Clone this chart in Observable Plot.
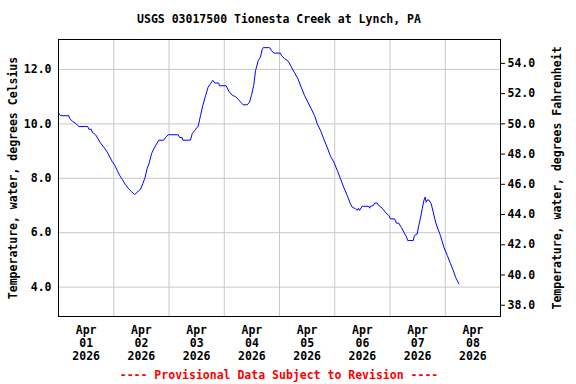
<!DOCTYPE html>
<html>
<head>
<meta charset="utf-8">
<script src="https://cdn.jsdelivr.net/npm/d3@7"></script>
<script src="https://cdn.jsdelivr.net/npm/@observablehq/plot@0.6"></script>
<style>
  html, body { margin: 0; padding: 0; background: #fff; }
  body { position: relative; width: 576px; height: 384px; overflow: hidden;
         font-family: "DejaVu Sans Mono", "Liberation Mono", monospace; font-weight: bold; }
  #title { position: absolute; left: 58px; width: 442px; top: 12px; line-height: 14px;
           font-size: 11.5px; text-align: center; color: #000; white-space: nowrap; }
  #chart { position: absolute; left: 0; top: 30px; }
  #caption { position: absolute; left: 58px; width: 442px; top: 368px; line-height: 14px;
             font-size: 11.5px; text-align: center; color: #ff0000; white-space: nowrap; }
</style>
</head>
<body>
<div id="title"></div>
<div id="chart"></div>
<div id="caption"></div>
<script>
const titleText = "USGS 03017500 Tionesta Creek at Lynch, PA";
const captionText = "---- Provisional Data Subject to Revision ----";
const leftLabel = "Temperature, water, degrees Celsius";
const rightLabel = "Temperature, water, degrees Fahrenheit";

// hours since 2026-04-01 00:00
const hours = [0, 0.9, 4.5, 4.8, 6.0, 7.7, 8.8, 12.7, 13.2, 14.3, 14.6, 16.1, 17.2, 18.2, 19.7, 21.2, 22.3, 23.3, 24.5, 25.5,
  26.6, 27.7, 29.1, 30.5, 31.7, 33.1, 34.2, 35.6, 36.6, 37.5, 38.5, 39.5, 40.4, 41.4, 42.4, 43.6, 45.7, 46.5, 47.7, 52.0,
  52.6, 53.7, 54.0, 57.3, 58.1, 59.2, 60.7, 61.7, 62.7, 63.9, 65.0, 66.0, 67.0, 67.9, 69.6, 69.9, 72.8, 74.0, 75.5, 76.9,
  78.1, 79.1, 80.2, 82.0, 83.0, 83.8, 84.8, 85.6, 86.8, 87.7, 88.5, 88.9, 91.7, 92.5, 93.5, 96.4, 96.9, 98.2, 99.8, 101.1,
  102.5, 104.0, 105.4, 106.9, 108.3, 109.8, 111.2, 112.4, 113.8, 115.2, 116.7, 118.2, 119.6, 121.1, 122.5, 123.9, 125.4, 126.8, 127.6, 129.0,
  129.8, 130.3, 130.8, 131.9, 134.8, 135.2, 135.5, 136.8, 137.3, 138.4, 139.1, 140.6, 142.0, 143.5, 144.2, 146.0, 146.8, 147.8, 148.9, 150.0,
  151.2, 151.7, 154.1, 154.6, 155.8, 156.5, 157.3, 158.0, 158.7, 159.3, 159.7, 160.1, 160.9, 161.9, 162.8, 163.8, 164.8, 165.9, 167.4, 168.9,
  170.3, 171.5, 172.5, 173.9];
const tempC = [10.4, 10.3, 10.3, 10.2, 10.1, 10.0, 9.9, 9.9, 9.8, 9.8, 9.7, 9.6, 9.45, 9.3, 9.14, 8.96, 8.78, 8.62, 8.47, 8.29,
  8.1, 7.96, 7.76, 7.61, 7.51, 7.4, 7.49, 7.59, 7.8, 8.0, 8.35, 8.59, 8.9, 9.08, 9.23, 9.4, 9.4, 9.5, 9.6, 9.6,
  9.5, 9.5, 9.4, 9.4, 9.64, 9.76, 9.92, 10.31, 10.68, 11.04, 11.35, 11.47, 11.6, 11.5, 11.5, 11.4, 11.4, 11.2, 11.05, 11.0,
  10.9, 10.8, 10.7, 10.7, 10.8, 11.04, 11.41, 11.96, 12.33, 12.45, 12.74, 12.8, 12.8, 12.7, 12.6, 12.6, 12.5, 12.4, 12.3, 12.1,
  11.88, 11.66, 11.35, 11.04, 10.8, 10.55, 10.31, 10.0, 9.76, 9.45, 9.14, 8.8, 8.59, 8.29, 7.98, 7.67, 7.37, 7.06, 6.94, 6.88,
  6.82, 6.9, 6.82, 6.97, 6.97, 6.9, 6.97, 7.0, 7.09, 7.09, 7.0, 6.9, 6.75, 6.63, 6.51, 6.51, 6.35, 6.35, 6.2, 6.02,
  5.84, 5.71, 5.71, 5.9, 5.95, 6.26, 6.57, 6.88, 7.18, 7.31, 7.12, 7.2, 7.2, 7.06, 6.75, 6.39, 6.14, 5.9, 5.47, 5.16,
  4.86, 4.61, 4.36, 4.12];

const celsiusTicks = [4, 6, 8, 10, 12];
const fahrenheitTicks = [38, 40, 42, 44, 46, 48, 50, 52, 54];
const tickDays = ["2026-04-01", "2026-04-02", "2026-04-03", "2026-04-04", "2026-04-05", "2026-04-06", "2026-04-07", "2026-04-08"];
const gridDays = ["2026-04-02", "2026-04-03", "2026-04-04", "2026-04-05", "2026-04-06", "2026-04-07", "2026-04-08"];
const xStart = "2026-04-01T00:00Z", xEnd = "2026-04-09T00:00Z";

document.getElementById("title").textContent = titleText;
document.getElementById("caption").textContent = captionText;

const t0 = new Date(xStart).getTime();
const data = hours.map((h, i) => ({time: new Date(t0 + h * 3600e3), value: tempC[i]}));
const noon = tickDays.map(d => new Date(d + "T12:00Z"));
const midnights = gridDays.map(d => new Date(d + "T00:00Z"));
const toC = f => (f - 32) * 5 / 9;
const fmtDay = d3.utcFormat("%b\n%d\n%Y");

const font = "DejaVu Sans Mono, Liberation Mono, monospace";
const plot = Plot.plot({
  width: 576,
  height: 336,
  marginLeft: 58,
  marginRight: 76,
  marginTop: 9,
  marginBottom: 50,
  style: {fontFamily: font, fontWeight: "bold", fontSize: "11.5px", background: "white", color: "black"},
  x: {type: "utc", domain: [new Date(xStart), new Date(xEnd)]},
  y: {domain: [2.92, 13.1]},
  marks: [
    Plot.gridY(celsiusTicks, {stroke: "#c8c8c8", strokeOpacity: 1}),
    Plot.gridX(midnights, {stroke: "#c8c8c8", strokeOpacity: 1}),
    Plot.axisY(celsiusTicks, {anchor: "left", tickSize: 0, tickPadding: 7, tickFormat: d3.format(".1f"), label: null, fontSize: 11.5}),
    Plot.axisY(fahrenheitTicks.map(toC), {anchor: "right", tickSize: 4, tickPadding: 3, tickFormat: c => (c * 9 / 5 + 32).toFixed(1), label: null, fontSize: 11.5}),
    Plot.axisX(noon, {anchor: "bottom", tickSize: 0, tickPadding: 8, tickFormat: fmtDay, label: null, fontSize: 11.5, lineHeight: 1.13}),
    Plot.line(data, {x: "time", y: "value", stroke: "#0000ff", strokeWidth: 1}),
    Plot.frame({stroke: "black"}),
    Plot.text([leftLabel], {frameAnchor: "left", textAnchor: "middle", dx: -45, rotate: -90, fontSize: 11.5, fill: "black"}),
    Plot.text([rightLabel], {frameAnchor: "right", textAnchor: "middle", dx: 57, rotate: -90, fontSize: 11.5, fill: "black"})
  ]
});
document.getElementById("chart").appendChild(plot);
</script>
</body>
</html>
